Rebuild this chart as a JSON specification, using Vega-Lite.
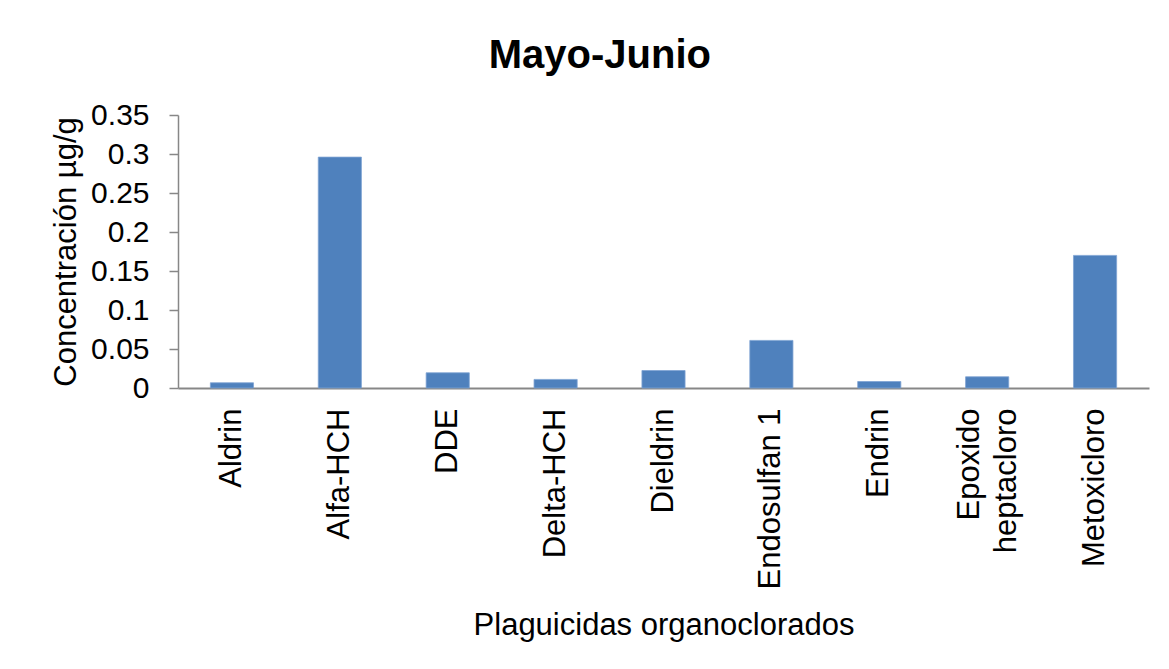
{
  "$schema": "https://vega.github.io/schema/vega-lite/v6.json",
  "autosize": "none",
  "width": 971,
  "height": 273,
  "padding": {"left": 178, "top": 115, "right": 20, "bottom": 281},
  "background": "white",
  "config": {
    "view": {"stroke": null},
    "font": "Liberation Sans"
  },
  "title": {
    "text": "Mayo-Junio",
    "font": "Liberation Sans",
    "fontSize": 40,
    "fontWeight": "bold",
    "color": "black",
    "anchor": "middle",
    "frame": "bounds",
    "baseline": "alphabetic",
    "offset": -8
  },
  "data": {
    "values": [
      {"plaguicida": "Aldrin", "concentracion": 0.0067},
      {"plaguicida": "Alfa-HCH", "concentracion": 0.296},
      {"plaguicida": "DDE", "concentracion": 0.0195},
      {"plaguicida": "Delta-HCH", "concentracion": 0.011},
      {"plaguicida": "Dieldrin", "concentracion": 0.0224},
      {"plaguicida": "Endosulfan 1", "concentracion": 0.061},
      {"plaguicida": "Endrin", "concentracion": 0.0083},
      {"plaguicida": "Epoxido heptacloro", "concentracion": 0.0144},
      {"plaguicida": "Metoxicloro", "concentracion": 0.17}
    ]
  },
  "mark": {"type": "bar", "color": "#4F81BD", "stroke": "#7FA3D3", "strokeWidth": 0.8},
  "encoding": {
    "x": {
      "field": "plaguicida",
      "type": "nominal",
      "sort": null,
      "scale": {"paddingInner": 0.6, "paddingOuter": 0.3},
      "axis": {
        "title": "Plaguicidas organoclorados",
        "titleFont": "Liberation Sans",
        "titleFontSize": 31,
        "titleFontWeight": "normal",
        "titleColor": "black",
        "titlePadding": 22,
        "labelAngle": -90,
        "labelFont": "Liberation Sans",
        "labelFontSize": 31,
        "labelColor": "black",
        "labelPadding": 20,
        "labelLimit": 400,
        "labelLineHeight": 37,
        "labelOffset": {"condition": {"test": "datum.value == 'Epoxido heptacloro'", "value": -17}, "value": 0},
        "labelExpr": "datum.value == 'Epoxido heptacloro' ? ['Epoxido', 'heptacloro'] : datum.value",
        "ticks": false,
        "domainColor": "#878787",
        "domainWidth": 1.8,
        "grid": false
      }
    },
    "y": {
      "field": "concentracion",
      "type": "quantitative",
      "scale": {"domain": [0, 0.35], "nice": false},
      "axis": {
        "title": "Concentración µg/g",
        "titleFont": "Liberation Sans",
        "titleFontSize": 31,
        "titleFontWeight": "normal",
        "titleColor": "black",
        "titlePadding": 8,
        "values": [0, 0.05, 0.1, 0.15, 0.2, 0.25, 0.3, 0.35],
        "labelExpr": "datum.value == 0 ? '0' : format(datum.value, '.2~f')",
        "labelFont": "Liberation Sans",
        "labelFontSize": 30,
        "labelColor": "black",
        "labelPadding": 20,
        "tickSize": 9,
        "tickColor": "#878787",
        "tickWidth": 1.5,
        "domainColor": "#878787",
        "domainWidth": 1.5,
        "grid": false
      }
    }
  }
}
